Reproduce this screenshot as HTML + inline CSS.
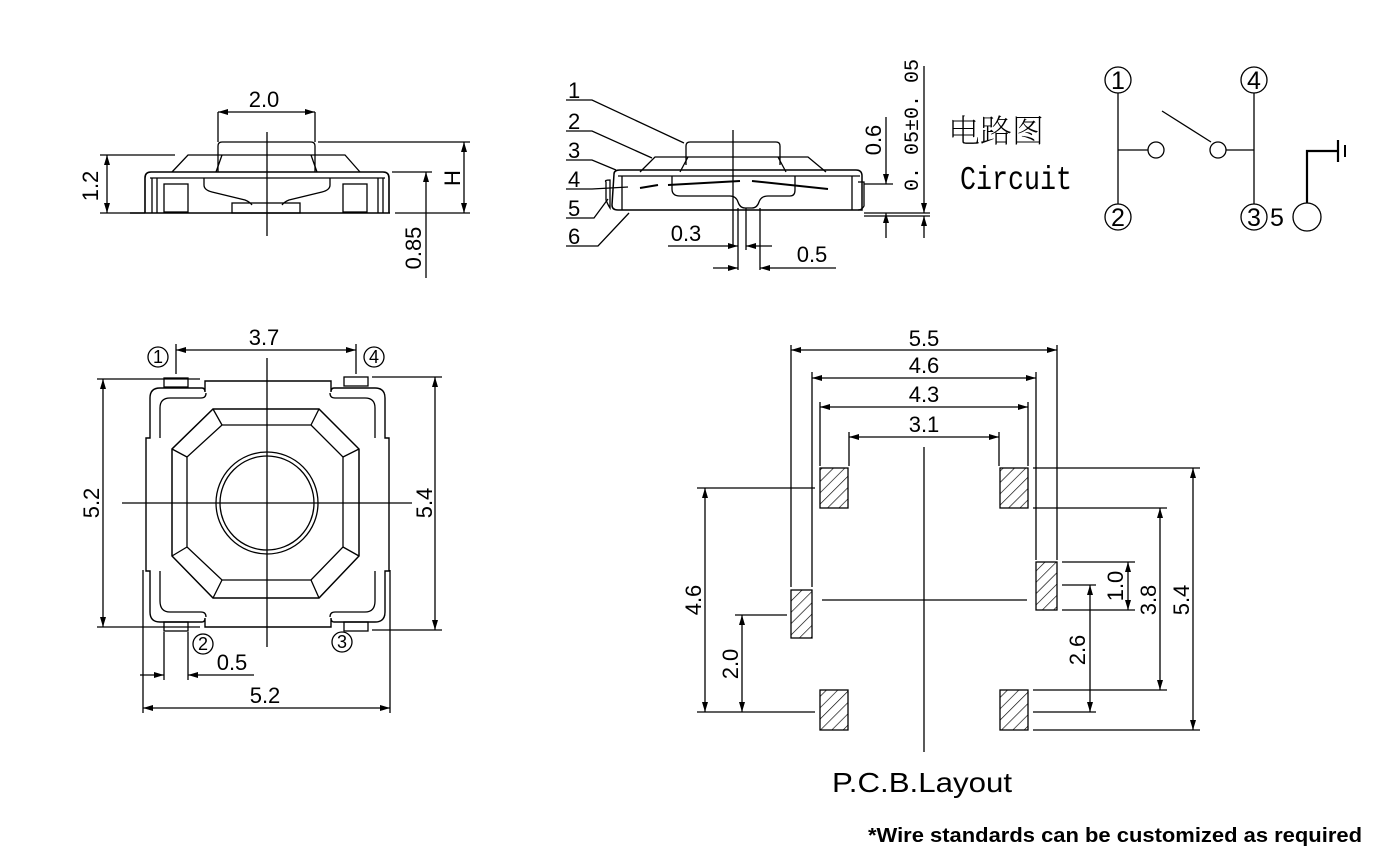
<!DOCTYPE html>
<html><head><meta charset="utf-8"><style>
html,body{margin:0;padding:0;background:#fff;}
svg{display:block;}
text{font-family:"Liberation Sans",sans-serif;fill:#000;}
</style></head><body>
<svg width="1390" height="863" viewBox="0 0 1390 863" xmlns="http://www.w3.org/2000/svg">
<defs>
<marker id="a" viewBox="0 0 10 6" refX="10" refY="3" markerWidth="10" markerHeight="6" orient="auto-start-reverse" markerUnits="userSpaceOnUse"><path d="M0,0 L10,3 L0,6 z" fill="#000"/></marker>
<pattern id="h" patternUnits="userSpaceOnUse" width="8" height="8" patternTransform="rotate(45)"><line x1="0" y1="0" x2="0" y2="8" stroke="#000" stroke-width="1.3"/></pattern>
</defs>
<g stroke="#000" fill="none" stroke-width="1.3">
<!-- ===== side view 1 ===== -->
<line x1="267" y1="132" x2="267" y2="236"/>
<line x1="218" y1="112" x2="218" y2="142"/><line x1="315" y1="112" x2="315" y2="142"/>
<line x1="218" y1="112" x2="315" y2="112" marker-start="url(#a)" marker-end="url(#a)"/>
<path d="M218,172 V146 Q218,142 222,142 H311 Q315,142 315,146 V172"/>
<path d="M172,172 L188,155 H345 L360,172"/>
<path d="M222,155 L216,172 M311,155 L317,172"/>
<path d="M145,213 V178 Q145,172 151,172 H383 Q389,172 389,178 V213" stroke-width="1.6"/>
<line x1="150" y1="178" x2="385" y2="178"/>
<path d="M152,178 V213 M157,178 V213 M378,178 V213 M383,178 V213"/>
<rect x="164" y="184" width="24" height="28"/><rect x="343" y="184" width="24" height="28"/>
<path d="M204,178 V185 Q204,190 212,192 L245,200 Q250,202 252,205 M330,178 V185 Q330,190 322,192 L289,200 Q284,202 282,205"/>
<rect x="232" y="203" width="68" height="10"/>
<line x1="130" y1="213" x2="390" y2="213" stroke-width="1.6"/>
<line x1="100" y1="155" x2="175" y2="155"/><line x1="100" y1="213" x2="145" y2="213"/>
<line x1="107" y1="155" x2="107" y2="213" marker-start="url(#a)" marker-end="url(#a)"/>
<line x1="318" y1="142" x2="470" y2="142"/><line x1="395" y1="213" x2="470" y2="213"/>
<line x1="464" y1="142" x2="464" y2="213" marker-start="url(#a)" marker-end="url(#a)"/>
<line x1="392" y1="172" x2="432" y2="172"/>
<line x1="426" y1="172" x2="426" y2="278" marker-start="url(#a)"/>
<!-- ===== side view 2 ===== -->
<line x1="733" y1="130" x2="733" y2="245"/>
<path d="M686,165 V146 Q686,142 690,142 H776 Q780,142 780,146 V165"/>
<path d="M640,172 L655,157 H808 L826,172"/>
<path d="M688,157 L680,172 M778,157 L786,172"/>
<path d="M614,174 Q614,170 620,170 H856 Q862,170 862,176 V210 H618 Q612,210 612,205 Z" stroke-width="1.5"/>
<path d="M606,182 Q604,180 610,180 V208 Q608,205 606,200 Z"/>
<path d="M858,182 H864 V206 Q862,210 858,210"/>
<line x1="618" y1="176" x2="860" y2="176"/>
<path d="M622,176 V210 M852,176 V210"/>
<path d="M672,176 V189 Q672,196 680,196 H730 Q736,196 738,202 Q740,208 745,208 H752 Q757,208 759,202 Q761,196 768,196 H790 Q795,196 795,190 V176"/>
<path d="M668,185 L740,181 M752,181 L828,189 M640,188 L658,185" stroke-width="2"/>
<line x1="738" y1="208" x2="738" y2="270"/><line x1="746" y1="208" x2="746" y2="250"/><line x1="760" y1="208" x2="760" y2="270"/>
<line x1="668" y1="246" x2="738" y2="246" marker-end="url(#a)"/><line x1="746" y1="246" x2="772" y2="246" marker-start="url(#a)"/>
<line x1="713" y1="268" x2="738" y2="268" marker-end="url(#a)"/><line x1="760" y1="268" x2="836" y2="268" marker-start="url(#a)"/>
<line x1="864" y1="184" x2="893" y2="184"/><line x1="864" y1="213" x2="930" y2="213"/><line x1="864" y1="216" x2="930" y2="216"/>
<line x1="886" y1="117" x2="886" y2="184" marker-end="url(#a)"/><line x1="886" y1="213" x2="886" y2="238" marker-start="url(#a)"/>
<line x1="924" y1="66" x2="924" y2="213" marker-end="url(#a)"/><line x1="924" y1="216" x2="924" y2="238" marker-start="url(#a)"/>
<!-- leaders -->
<path d="M566,100 H592 L684,143" /><path d="M566,131 H592 L652,158"/><path d="M566,160 H592 L616,170"/>
<path d="M566,189 H592 L628,187"/><path d="M566,218 H594 L608,199"/><path d="M566,246 H598 L629,213"/>
<!-- ===== circuit ===== -->
<circle cx="1118" cy="80" r="13"/><circle cx="1118" cy="217" r="13"/><circle cx="1254" cy="80" r="13"/><circle cx="1254" cy="217" r="13"/>
<line x1="1118" y1="93" x2="1118" y2="204"/><line x1="1118" y1="150" x2="1148" y2="150"/><circle cx="1156" cy="150" r="8"/>
<line x1="1254" y1="93" x2="1254" y2="204"/><line x1="1226" y1="150" x2="1254" y2="150"/><circle cx="1218" cy="150" r="8"/>
<line x1="1162" y1="111" x2="1211" y2="142"/>
<circle cx="1307" cy="217" r="14"/>
<path d="M1307,203 V151 H1338" stroke-width="2.2"/><line x1="1338" y1="140" x2="1338" y2="162" stroke-width="2.2"/><line x1="1345" y1="145" x2="1345" y2="157" stroke-width="2"/>
<!-- ===== top view ===== -->
<line x1="267" y1="358" x2="267" y2="647"/><line x1="122" y1="503" x2="412" y2="503"/>
<path d="M150,398 Q150,388 160,388 H202 Q205,388 205,392 V381 H331 V392 Q331,388 334,388 H375 Q385,388 385,398 V438 H389 V571 H385 V612 Q385,622 375,622 H334 Q331,622 331,618 V627 H205 V618 Q205,622 202,622 H160 Q150,622 150,612 V571 H146 V438 H150 Z" stroke-width="1.4"/>
<path d="M160,438 V408 Q160,398 170,398 H201 Q206,398 206,393 M160,571 V601 Q160,612 170,612 H201 Q206,612 206,617 M375,438 V408 Q375,398 365,398 H335 Q330,398 330,393 M375,571 V601 Q375,612 365,612 H335 Q330,612 330,617"/>
<rect x="164" y="378" width="24" height="9"/><rect x="344" y="377" width="24" height="9"/>
<rect x="164" y="622" width="24" height="9"/><rect x="344" y="622" width="24" height="9"/>
<polygon points="213,409 319,409 359,449 359,556 319,598 213,598 172,556 172,449" stroke-width="1.5"/>
<polygon points="222,425 311,425 343,457 343,547 311,580 222,580 187,547 187,457"/>
<path d="M213,409 L222,425 M319,409 L311,425 M359,449 L343,457 M359,556 L343,547 M319,598 L311,580 M213,598 L222,580 M172,556 L187,547 M172,449 L187,457"/>
<circle cx="267" cy="503" r="51"/><circle cx="267" cy="503" r="47"/>
<line x1="176" y1="344" x2="176" y2="374"/><line x1="356" y1="344" x2="356" y2="374"/>
<line x1="176" y1="350" x2="356" y2="350" marker-start="url(#a)" marker-end="url(#a)"/>
<line x1="97" y1="379" x2="200" y2="379"/><line x1="97" y1="627" x2="200" y2="627"/>
<line x1="103" y1="379" x2="103" y2="627" marker-start="url(#a)" marker-end="url(#a)"/>
<line x1="372" y1="377" x2="442" y2="377"/><line x1="372" y1="630" x2="442" y2="630"/>
<line x1="435" y1="377" x2="435" y2="630" marker-start="url(#a)" marker-end="url(#a)"/>
<line x1="143" y1="570" x2="143" y2="713"/><line x1="390" y1="570" x2="390" y2="713"/>
<line x1="143" y1="708" x2="390" y2="708" marker-start="url(#a)" marker-end="url(#a)"/>
<line x1="164" y1="632" x2="164" y2="680"/><line x1="188" y1="632" x2="188" y2="680"/>
<line x1="140" y1="675" x2="164" y2="675" marker-end="url(#a)"/><line x1="188" y1="675" x2="254" y2="675" marker-start="url(#a)"/>
<circle cx="158" cy="357" r="10"/><circle cx="374" cy="357" r="10"/><circle cx="203" cy="644" r="10"/><circle cx="342" cy="642" r="10"/>
<!-- ===== PCB layout ===== -->
<line x1="924" y1="447" x2="924" y2="752"/><line x1="822" y1="600" x2="1027" y2="600"/>
<g fill="url(#h)">
<rect x="820" y="468" width="28" height="40"/><rect x="1000" y="468" width="28" height="40"/>
<rect x="791" y="590" width="21" height="48"/><rect x="1036" y="562" width="21" height="48"/>
<rect x="820" y="690" width="28" height="40"/><rect x="1000" y="690" width="28" height="40"/>
</g>
<line x1="791" y1="345" x2="791" y2="587"/><line x1="1057" y1="345" x2="1057" y2="560"/>
<line x1="791" y1="350" x2="1057" y2="350" marker-start="url(#a)" marker-end="url(#a)"/>
<line x1="812" y1="372" x2="812" y2="587"/><line x1="1036" y1="372" x2="1036" y2="560"/>
<line x1="812" y1="378" x2="1036" y2="378" marker-start="url(#a)" marker-end="url(#a)"/>
<line x1="820" y1="402" x2="820" y2="466"/><line x1="1028" y1="402" x2="1028" y2="466"/>
<line x1="820" y1="407" x2="1028" y2="407" marker-start="url(#a)" marker-end="url(#a)"/>
<line x1="849" y1="432" x2="849" y2="466"/><line x1="999" y1="432" x2="999" y2="466"/>
<line x1="849" y1="437" x2="999" y2="437" marker-start="url(#a)" marker-end="url(#a)"/>
<line x1="1033" y1="468" x2="1200" y2="468"/><line x1="1033" y1="730" x2="1200" y2="730"/>
<line x1="1193" y1="468" x2="1193" y2="730" marker-start="url(#a)" marker-end="url(#a)"/>
<line x1="1033" y1="508" x2="1167" y2="508"/><line x1="1033" y1="690" x2="1167" y2="690"/>
<line x1="1160" y1="508" x2="1160" y2="690" marker-start="url(#a)" marker-end="url(#a)"/>
<line x1="1062" y1="562" x2="1135" y2="562"/><line x1="1062" y1="610" x2="1135" y2="610"/>
<line x1="1128" y1="562" x2="1128" y2="610" marker-start="url(#a)" marker-end="url(#a)"/>
<line x1="1062" y1="585" x2="1096" y2="585"/><line x1="1033" y1="712" x2="1096" y2="712"/>
<line x1="1090" y1="585" x2="1090" y2="712" marker-start="url(#a)" marker-end="url(#a)"/>
<line x1="697" y1="488" x2="815" y2="488"/><line x1="697" y1="712" x2="815" y2="712"/>
<line x1="705" y1="488" x2="705" y2="712" marker-start="url(#a)" marker-end="url(#a)"/>
<line x1="735" y1="615" x2="787" y2="615"/>
<line x1="742" y1="615" x2="742" y2="712" marker-start="url(#a)" marker-end="url(#a)"/>
</g>
<g font-size="22">
<text x="264" y="107" text-anchor="middle">2.0</text>
<text transform="translate(98,186) rotate(-90)" text-anchor="middle">1.2</text>
<text transform="translate(460,178) rotate(-90)" text-anchor="middle">H</text>
<text transform="translate(421,248) rotate(-90)" text-anchor="middle">0.85</text>
<text x="568" y="98">1</text><text x="568" y="129">2</text><text x="568" y="158">3</text><text x="568" y="187">4</text><text x="568" y="216">5</text><text x="568" y="244">6</text>
<text x="686" y="241" text-anchor="middle">0.3</text><text x="812" y="262" text-anchor="middle">0.5</text>
<text transform="translate(881,140) rotate(-90)" text-anchor="middle">0.6</text>
<text x="264" y="345" text-anchor="middle">3.7</text>
<text transform="translate(99,503) rotate(-90)" text-anchor="middle">5.2</text>
<text transform="translate(432,503) rotate(-90)" text-anchor="middle">5.4</text>
<text x="232" y="670" text-anchor="middle">0.5</text>
<text x="265" y="703" text-anchor="middle">5.2</text>
<text x="924" y="346" text-anchor="middle">5.5</text><text x="924" y="373" text-anchor="middle">4.6</text>
<text x="924" y="402" text-anchor="middle">4.3</text><text x="924" y="432" text-anchor="middle">3.1</text>
<text transform="translate(701,600) rotate(-90)" text-anchor="middle">4.6</text>
<text transform="translate(738,664) rotate(-90)" text-anchor="middle">2.0</text>
<text transform="translate(1085,650) rotate(-90)" text-anchor="middle">2.6</text>
<text transform="translate(1123,586) rotate(-90)" text-anchor="middle">1.0</text>
<text transform="translate(1156,600) rotate(-90)" text-anchor="middle">3.8</text>
<text transform="translate(1189,600) rotate(-90)" text-anchor="middle">5.4</text>
</g>
<text transform="translate(918,125) rotate(-90)" text-anchor="middle" font-size="20" style="font-family:'Liberation Mono',monospace">0. 05±0. 05</text>
<text x="948" y="142" font-size="32" style="font-family:'Noto Serif CJK SC',serif;font-weight:200">电路图</text>
<text x="960" y="189" font-size="33" style="font-family:'Liberation Mono',monospace" textLength="112" lengthAdjust="spacingAndGlyphs">Circuit</text>
<g font-size="18" text-anchor="middle">
<text x="158" y="363">1</text><text x="374" y="363">4</text><text x="203" y="650">2</text><text x="342" y="648">3</text>
</g>
<g font-size="25" text-anchor="middle">
<text x="1118" y="89">1</text><text x="1118" y="226">2</text><text x="1254" y="89">4</text><text x="1254" y="226">3</text><text x="1277" y="226">5</text>
</g>
<text x="832" y="792" font-size="28" textLength="180" lengthAdjust="spacingAndGlyphs">P.C.B.Layout</text>
<text x="868" y="842" font-size="20" font-weight="bold" textLength="494" lengthAdjust="spacingAndGlyphs">*Wire standards can be customized as required</text>
</svg>
</body></html>
